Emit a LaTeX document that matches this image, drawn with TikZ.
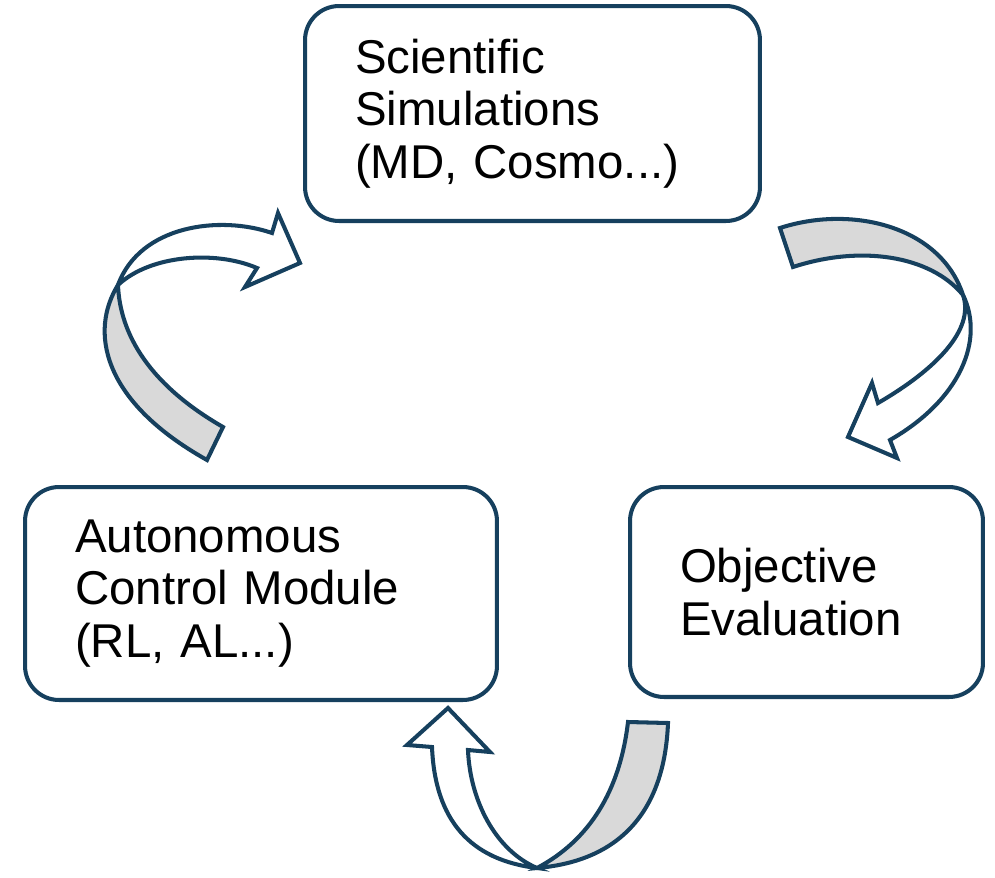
\documentclass[tikz,border=0pt]{standalone}
\usepackage{fontspec}
\setmainfont{Liberation Sans}
\definecolor{boxline}{RGB}{22,64,94}
\definecolor{ribbon}{RGB}{217,217,217}
\tikzset{
  stagebox/.style={draw=boxline,line width=2.3pt,rounded corners=0.68cm,fill=white,
    align=left,inner xsep=1cm,inner ysep=0pt,font=\fontsize{27}{29.8}\selectfont},
  backpart/.style={draw=boxline,line width=2.3pt,fill=ribbon,line join=miter},
  frontpart/.style={draw=boxline,line width=2.3pt,fill=white,line join=miter}
}

\begin{document}
\begin{tikzpicture}[x=0.02cm,y=-0.02cm]
  \useasboundingbox (0,0) rectangle (995,877);
  \node[stagebox,text width=7.1cm,minimum height=4.3cm] (sim) at (532.5,113.5)
    {Scientific\\Simulations\\(MD, Cosmo...)};
  \node[stagebox,text width=7.44cm,minimum height=4.26cm] (ctrl) at (261,593.5)
    {Autonomous\\Control Module\\(RL, AL...)};
  \node[stagebox,text width=5.06cm,minimum height=4.2cm] (eval) at (806.5,592)
    {Objective\\Evaluation};
  \coordinate (tw1) at (118,285);
  \coordinate (tw2) at (963,295);
  \coordinate (tw3) at (537,868);
  % ctrl -> sim
  \draw[backpart] (tw1) .. controls (90,330) and (100,400) .. (207,460) -- (223,427)
    .. controls (150,385) and (120,335) .. (tw1) -- cycle;
  \draw[frontpart] (tw1) .. controls (140,225) and (220,215) .. (272,233) -- (278,213)
    -- (300,263) -- (245,287) -- (257,268) .. controls (215,250) and (150,255) .. (tw1) -- cycle;
  % sim -> eval
  \draw[backpart] (780,228) .. controls (850,205) and (940,225) .. (tw2)
    .. controls (930,255) and (860,245) .. (793,267) -- cycle;
  \draw[frontpart] (tw2) .. controls (985,340) and (960,400) .. (890,440) -- (897,458)
    -- (848,437) -- (872,383) -- (878,403) .. controls (935,370) and (975,330) .. (tw2) -- cycle;
  % eval -> ctrl
  \draw[backpart] (628,722) -- (668,723) .. controls (665,800) and (630,860) .. (tw3)
    .. controls (590,840) and (620,790) .. (628,722) -- cycle;
  \draw[frontpart] (tw3) .. controls (470,860) and (435,820) .. (432,747) -- (407,745)
    -- (448,708) -- (490,752) -- (468,750) .. controls (470,800) and (495,850) .. (tw3) -- cycle;
\end{tikzpicture}
\end{document}
